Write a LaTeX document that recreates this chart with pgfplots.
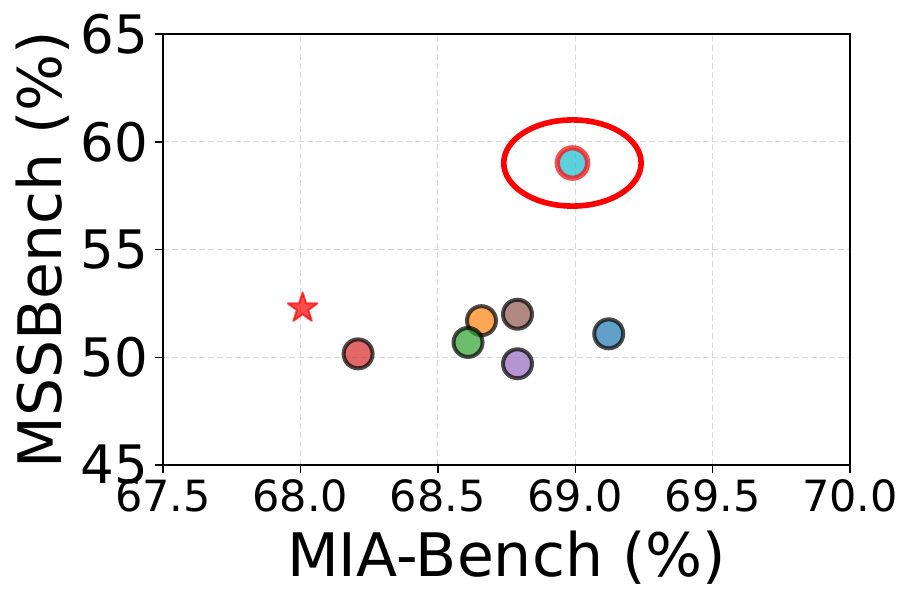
\documentclass[border=0pt]{standalone}
\usepackage{fontspec}
\setmainfont{DejaVu Sans}
\usepackage{pgfplots}
\pgfplotsset{compat=1.18}
\definecolor{tabblue}{HTML}{1F77B4}
\definecolor{taborange}{HTML}{FF7F0E}
\definecolor{tabgreen}{HTML}{2CA02C}
\definecolor{tabred}{HTML}{D62728}
\definecolor{tabpurple}{HTML}{9467BD}
\definecolor{tabbrown}{HTML}{8C564B}
\definecolor{tabcyan}{HTML}{17BECF}
\pgfdeclareplotmark{fstar}{%
  \pgfpathmoveto{\pgfpointpolar{90}{\pgfplotmarksize}}%
  \pgfpathlineto{\pgfpointpolar{126}{0.382\pgfplotmarksize}}%
  \pgfpathlineto{\pgfpointpolar{162}{\pgfplotmarksize}}%
  \pgfpathlineto{\pgfpointpolar{198}{0.382\pgfplotmarksize}}%
  \pgfpathlineto{\pgfpointpolar{234}{\pgfplotmarksize}}%
  \pgfpathlineto{\pgfpointpolar{270}{0.382\pgfplotmarksize}}%
  \pgfpathlineto{\pgfpointpolar{306}{\pgfplotmarksize}}%
  \pgfpathlineto{\pgfpointpolar{342}{0.382\pgfplotmarksize}}%
  \pgfpathlineto{\pgfpointpolar{18}{\pgfplotmarksize}}%
  \pgfpathlineto{\pgfpointpolar{54}{0.382\pgfplotmarksize}}%
  \pgfpathclose
  \pgfusepathqfillstroke}
\begin{document}
\begin{tikzpicture}
\path[use as bounding box] (-81.5pt,-69.5pt) rectangle (375.5pt,232.5pt);
\begin{axis}[
  scale only axis,
  width=343.5pt, height=215.4pt,
  xmin=67.5, xmax=70.0, ymin=45, ymax=65,
  xtick={67.5,68.0,68.5,69.0,69.5,70.0},
  xticklabels={67.5,68.0,68.5,69.0,69.5,70.0},
  ytick={45,50,55,60,65},
  xtick pos=bottom, ytick pos=left,
  tick align=outside,
  major tick length=4pt,
  every tick/.style={black, line width=0.7pt},
  axis line style={line width=0.7pt},
  /pgf/number format/assume math mode=true,
  xticklabel style={font=\fontsize{21.5}{25}\selectfont},
  yticklabel style={font=\fontsize{26.5}{30}\selectfont},
  grid=major,
  major grid style={gray!30, dash pattern=on 3pt off 1.5pt, line width=0.6pt},
  xlabel={MIA-Bench (\%)},
  ylabel={MSSBench (\%)},
  label style={font=\fontsize{30}{36}\selectfont},
  xlabel style={at={(axis description cs:0.5,-0.2586)}, anchor=base},
  ylabel style={at={(axis description cs:-0.1473,0.5)}, anchor=base},
  clip=false,
]
\addplot[only marks, mark=fstar, mark size=7.8pt, mark options={fill=red, draw=red, fill opacity=0.7, draw opacity=0.7, line width=1pt, line join=round}] coordinates {(68.008,52.28)};
\addplot[only marks, mark=*, mark size=7.25pt, mark options={fill=tabred, fill opacity=0.7, draw=black, draw opacity=0.7, line width=2pt}] coordinates {(68.21,50.16)};
\addplot[only marks, mark=*, mark size=7.25pt, mark options={fill=taborange, fill opacity=0.7, draw=black, draw opacity=0.7, line width=2pt}] coordinates {(68.659,51.70)};
\addplot[only marks, mark=*, mark size=7.25pt, mark options={fill=tabgreen, fill opacity=0.7, draw=black, draw opacity=0.7, line width=2pt}] coordinates {(68.610,50.69)};
\addplot[only marks, mark=*, mark size=7.25pt, mark options={fill=tabpurple, fill opacity=0.7, draw=black, draw opacity=0.7, line width=2pt}] coordinates {(68.790,49.70)};
\addplot[only marks, mark=*, mark size=7.25pt, mark options={fill=tabbrown, fill opacity=0.7, draw=black, draw opacity=0.7, line width=2pt}] coordinates {(68.790,52.00)};
\addplot[only marks, mark=*, mark size=7.25pt, mark options={fill=tabblue, fill opacity=0.7, draw=black, draw opacity=0.7, line width=2pt}] coordinates {(69.122,51.09)};
\addplot[only marks, mark=*, mark size=7.6pt, mark options={fill=tabcyan, fill opacity=0.7, draw=red, draw opacity=0.7, line width=2.6pt}] coordinates {(68.99,59.02)};
\draw[red, line width=2.8pt] (axis cs:68.99,59.02) ellipse [x radius=0.25, y radius=2];
\end{axis}
\end{tikzpicture}
\end{document}
